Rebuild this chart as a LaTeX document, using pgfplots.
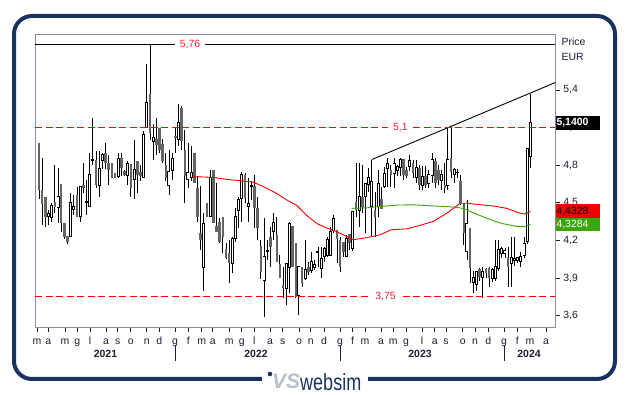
\documentclass[border=0pt]{standalone}
\usepackage{graphicx}
\usepackage{pgfplots}
\pgfplotsset{compat=1.18}
\usepackage{pgfplotstable}
\usepackage{fontspec}
\setmainfont{Liberation Sans}
\definecolor{navy}{RGB}{25,50,95}
\definecolor{framegray}{RGB}{140,140,160}
\definecolor{candlegray}{RGB}{100,100,100}
\definecolor{lvlred}{RGB}{255,30,60}
\definecolor{lvlline}{RGB}{255,0,0}
\definecolor{mared}{RGB}{240,0,0}
\definecolor{magreen}{RGB}{60,165,10}
\definecolor{txt}{RGB}{30,30,50}
\definecolor{logogray}{RGB}{185,192,204}
\newcommand\f{\fontsize{10.5}{12}\selectfont}

\pgfplotstableread{
o h l c
4.975 4.975 4.53 4.60
4.60 4.855 4.32 4.49
4.55 4.55 4.31 4.39
4.39 4.44 4.32 4.41
4.385 4.50 4.35 4.475
4.51 4.80 4.42 4.47
4.465 4.775 4.34 4.55
4.65 4.65 4.27 4.34
4.34 4.34 4.21 4.23
4.235 4.235 4.175 4.19
4.23 4.575 4.225 4.497
4.45 4.56 4.40 4.47
4.56 4.63 4.39 4.39
4.39 4.63 4.35 4.63
4.64 4.815 4.575 4.615
4.505 4.685 4.40 4.51
4.47 4.90 4.47 4.72
4.84 5.175 4.80 4.845
4.84 4.91 4.62 4.64
4.64 4.91 4.55 4.77
4.84 4.90 4.77 4.885
4.895 4.975 4.77 4.82
4.82 4.88 4.64 4.76
4.815 4.815 4.70 4.70
4.735 4.74 4.70 4.70
4.71 4.895 4.70 4.85
4.86 4.90 4.71 4.78
4.755 4.76 4.71 4.72
4.72 4.83 4.64 4.81
4.81 4.81 4.55 4.615
4.685 5.00 4.53 4.76
4.83 4.83 4.575 4.72
4.745 4.80 4.67 4.715
4.70 5.07 4.70 5.04
5.10 5.61 5.10 5.30
5.37 5.76 5.00 5.055
4.99 5.13 4.84 5.02
5.005 5.175 4.88 4.965
5.095 5.095 4.895 4.92
4.97 5.01 4.815 4.835
4.80 4.895 4.67 4.70
4.64 4.92 4.56 4.745
4.76 4.895 4.68 4.85
5.03 5.095 4.895 5.015
5.01 5.29 4.95 5.135
5.26 5.27 4.92 4.995
4.92 5.08 4.50 4.715
4.69 4.975 4.615 4.74
4.70 4.95 4.67 4.74
4.895 4.895 4.655 4.66
4.615 4.71 4.35 4.39
4.257 4.634 4.124 4.203
3.99 4.415 3.80 4.335
4.495 4.495 4.39 4.39
4.39 4.76 4.39 4.703
4.76 4.76 4.34 4.34
4.315 4.655 4.27 4.27
4.35 4.375 4.177 4.19
4.39 4.39 4.097 4.23
4.128 4.18 4.05 4.057
4.097 4.20 3.858 4.02
4.017 4.23 3.937 4.216
4.216 4.456 4.19 4.39
4.443 4.55 4.297 4.528
4.536 4.748 4.35 4.72
4.72 4.74 4.496 4.536
4.47 4.695 4.35 4.496
4.634 4.67 4.52 4.636
4.634 4.72 4.296 4.456
4.456 4.55 4.20 4.297
4.155 4.20 3.89 3.95
3.88 4.375 3.59 4.07
4.11 4.20 4.04 4.115
4.23 4.31 3.99 4.15
4.27 4.415 4.20 4.34
4.243 4.39 4.03 4.03
4.01 4.085 3.90 3.90
3.844 3.99 3.74 3.817
3.817 4.017 3.685 4.017
3.99 4.35 3.78 4.336
4.315 4.315 3.99 3.99
4.176 4.176 3.74 3.75
3.765 3.995 3.605 3.99
3.99 3.99 3.83 3.857
3.898 4.203 3.885 3.97
3.99 4.03 3.925 3.95
3.965 4.11 3.937 4.03
3.99 4.043 3.963 4.003
4.105 4.15 3.99 4.107
3.977 4.15 3.897 4.056
4.07 4.15 4.03 4.13
4.083 4.23 4.07 4.203
4.083 4.31 4.075 4.27
4.283 4.40 4.256 4.37
4.283 4.283 4.017 4.21
4.203 4.23 3.95 3.99
4.19 4.19 4.07 4.11
4.07 4.243 4.07 4.216
4.25 4.25 4.125 4.176
4.136 4.43 4.118 4.43
4.51 4.815 4.39 4.443
4.443 4.82 4.31 4.55
4.55 4.80 4.416 4.47
4.55 4.656 4.256 4.656
4.648 4.775 4.59 4.70
4.47 4.845 4.23 4.67
4.443 4.59 4.23 4.39
4.47 4.76 4.39 4.656
4.528 4.63 4.45 4.45
4.63 4.788 4.615 4.735
4.775 4.855 4.63 4.81
4.76 4.80 4.624 4.72
4.735 4.855 4.615 4.815
4.757 4.80 4.71 4.79
4.78 4.855 4.71 4.847
4.85 4.85 4.68 4.72
4.76 4.788 4.695 4.71
4.79 4.88 4.75 4.835
4.816 4.84 4.70 4.736
4.70 4.84 4.66 4.78
4.78 4.80 4.60 4.64
4.64 4.79 4.60 4.71
4.71 4.79 4.62 4.64
4.66 4.76 4.62 4.72
4.72 4.894 4.66 4.84
4.83 4.86 4.62 4.655
4.76 4.80 4.64 4.68
4.68 4.76 4.60 4.72
4.642 4.814 4.58 4.615
4.642 5.10 4.60 4.841
4.854 5.10 4.70 4.748
4.73 4.78 4.66 4.76
4.74 4.77 4.70 4.742
4.674 4.72 4.48 4.50
4.50 4.50 4.164 4.257
4.11 4.52 4.044 4.336
4.297 4.30 3.86 3.977
3.87 3.96 3.78 3.90
3.85 3.96 3.80 3.95
3.97 3.98 3.88 3.91
3.91 3.99 3.744 3.951
3.97 3.98 3.90 3.938
3.977 3.99 3.83 3.898
3.898 3.98 3.87 3.97
3.898 4.20 3.88 3.99
3.977 4.20 3.96 4.124
4.097 4.15 4.06 4.137
4.10 4.14 4.06 4.12
4.058 4.15 3.831 3.991
4.017 4.23 3.831 4.058
4.04 4.23 4.00 4.05
4.039 4.06 4.02 4.058
4.031 4.11 3.99 4.066
4.084 4.23 4.06 4.177
4.19 4.94 4.17 4.934
4.868 5.368 4.775 5.14
}\candles

\pgfplotstableread{
x v
193.3 4.709
213.3 4.703
228.3 4.685
240 4.677
253 4.665
263.3 4.630
276.7 4.575
286.7 4.523
296.7 4.480
306.7 4.400
316.7 4.335
326.7 4.300
336.7 4.270
346.7 4.232
353.3 4.206
366.7 4.222
380 4.245
391.3 4.285
406.7 4.292
420 4.320
433.3 4.352
446.7 4.416
460 4.496
466.7 4.497
480 4.485
493.3 4.475
506.7 4.456
518.3 4.422
524 4.410
527.3 4.418
530.4 4.4328
}\maredtab

\pgfplotstableread{
x v
351.7 4.456
366.7 4.460
380 4.470
396.7 4.482
413.3 4.484
433.3 4.475
446.7 4.470
456.7 4.464
463 4.455
470 4.432
478 4.405
486.7 4.378
495 4.352
503.3 4.333
516.7 4.312
525 4.310
530.4 4.3284
}\magreentab

\begin{document}
\begin{tikzpicture}
\useasboundingbox (0,0) rectangle (629bp,395bp);
\fill[white] (0,0) rectangle (629bp,395bp);
\draw[navy, line width=4bp, rounded corners=18bp] (14bp,16bp) rectangle (615bp,379bp);
\begin{axis}[
  at={(35.3bp,67.3bp)}, anchor=south west,
  scale only axis, width=520bp, height=293.4bp,
  xmin=35.3, xmax=555.3, ymin=3.504, ymax=5.844,
  clip=false,
  unbounded coords=discard,
  axis line style={framegray, line width=1bp},
  tick align=outside,
  major tick length=4.5bp,
  tick style={txt, line width=0.8bp},
  xtick pos=bottom, ytick pos=right,
  yticklabel pos=right,
  xtick={37,48.3,65,77.3,90,106,117.7,130.7,146.7,159.3,175,188.3,201.7,212.7,229.3,241.7,254.3,270,282.7,299,310.7,324,340,352.7,365,381,393.3,406,422,434.7,446,462.7,475,488.3,504,517.3,530,546},
  xticklabels={m,a,m,g,l,a,s,o,n,d,g,f,m,a,m,g,l,a,s,o,n,d,g,f,m,a,m,g,l,a,s,o,n,d,g,f,m,a},
  ytick={3.6,3.9,4.2,4.5,4.8,5.1,5.4},
  yticklabel style={/pgf/number format/.cd, fixed, fixed zerofill, precision=1, use comma, assume math mode=true},
  ticklabel style={font=\f, text=txt},
  xticklabel style={anchor=base, yshift=-12.5bp},
]
% wicks: from low, length high-low
\addplot[mark=none, forget plot, -,
  quiver={u=0, v=\thisrow{h}-\thisrow{l}, every arrow/.append style={draw=black, line width=0.9bp}}]
  table[x expr=39+3.17*\coordindex, y=l] {\candles};
% down bodies (close below open): from close up to open
\addplot[mark=none, forget plot, -,
  restrict expr to domain={\thisrow{o}-\thisrow{c}}{0.0001:100},
  quiver={u=0, v=\thisrow{o}-\thisrow{c}, every arrow/.append style={draw=candlegray, line width=2.5bp}}]
  table[x expr=39+3.17*\coordindex, y=c] {\candles};
% up bodies outline
\addplot[mark=none, forget plot, -,
  restrict expr to domain={\thisrow{c}-\thisrow{o}}{0:100},
  quiver={u=0, v=\thisrow{c}-\thisrow{o}+0.012, every arrow/.append style={draw=black, line width=3bp}}]
  table[x expr=39+3.17*\coordindex, y expr=\thisrow{o}-0.006] {\candles};
% up bodies inside
\addplot[mark=none, forget plot, -,
  restrict expr to domain={\thisrow{c}-\thisrow{o}}{0.006:100},
  quiver={u=0, v=\thisrow{c}-\thisrow{o}-0.004, every arrow/.append style={draw=white, line width=1.2bp}}]
  table[x expr=39+3.17*\coordindex, y expr=\thisrow{o}+0.002] {\candles};
% moving averages
\addplot[mared, line width=0.9bp, mark=none] table[x=x,y=v] {\maredtab};
\addplot[magreen, line width=0.9bp, mark=none] table[x=x,y=v] {\magreentab};
% trend line
\addplot[black, line width=0.9bp, mark=none] coordinates {(371.85,4.845) (555.3,5.459)};
% levels
\addplot[black, line width=1bp, mark=none] coordinates {(35.3,5.76) (555.3,5.76)};
\addplot[lvlline, line width=1.2bp, mark=none, dash pattern=on 7bp off 3.5bp] coordinates {(35.3,5.1) (555.3,5.1)};
\addplot[lvlline, line width=1.2bp, mark=none, dash pattern=on 7bp off 3.5bp] coordinates {(35.3,3.75) (555.3,3.75)};
\node[fill=white, inner xsep=5bp, inner ysep=1bp, text=lvlred, font=\f] at (axis cs:190,5.76) {5,76};
\node[fill=white, inner xsep=5bp, inner ysep=1bp, text=lvlred, font=\f] at (axis cs:400.3,5.1) {5,1};
\node[fill=white, inner xsep=5bp, inner ysep=1bp, text=lvlred, font=\f] at (axis cs:385.5,3.75) {3,75};
\coordinate (b1) at (axis cs:555.3,5.14);
\coordinate (b2) at (axis cs:555.3,4.4328);
\coordinate (b3) at (axis cs:555.3,4.3284);
\end{axis}
% value boxes
\node[anchor=west, fill=black, text=white, inner xsep=1bp, inner ysep=0pt, minimum height=14bp, text width=42bp, align=left, font=\f\bfseries] at (b1) {5,1400};
\node[anchor=west, fill=mared, text=black, inner xsep=1bp, inner ysep=0pt, minimum height=13.5bp, text width=42bp, align=left, font=\f] at (b2) {4,4328};
\node[anchor=west, fill=magreen, text=white, inner xsep=1bp, inner ysep=0pt, minimum height=13.5bp, text width=42bp, align=left, font=\f] at (b3) {4,3284};
% header on the right
\node[anchor=west, inner sep=0pt, text=txt, font=\f] at (561.5bp,353.3bp) {Price};
\node[anchor=west, inner sep=0pt, text=txt, font=\f] at (561.5bp,338.3bp) {EUR};
% years
\node[text=txt, font=\f\bfseries] at (105.5bp,41bp) {2021};
\node[text=txt, font=\f\bfseries] at (256bp,41bp) {2022};
\node[text=txt, font=\f\bfseries] at (420bp,41bp) {2023};
\node[text=txt, font=\f\bfseries] at (529bp,41bp) {2024};
\draw[txt, line width=1bp] (175bp,50bp) -- (175bp,34bp);
\draw[txt, line width=1bp] (340bp,50bp) -- (340bp,34bp);
\draw[txt, line width=1bp] (504bp,50bp) -- (504bp,34bp);
% logo
\fill[white] (262bp,4bp) rectangle (368bp,26bp);
\fill[navy] (270bp,21bp) circle (2.3bp);
\node[anchor=center, inner sep=0pt, text=logogray, font=\fontsize{21}{22}\selectfont\bfseries\itshape] at (286bp,13.5bp) {VS};
\node[anchor=base west, inner sep=0pt, text=navy] at (300bp,5bp) {\scalebox{0.77}[1]{\fontsize{23.5}{24}\selectfont websim}};
\end{tikzpicture}
\end{document}
